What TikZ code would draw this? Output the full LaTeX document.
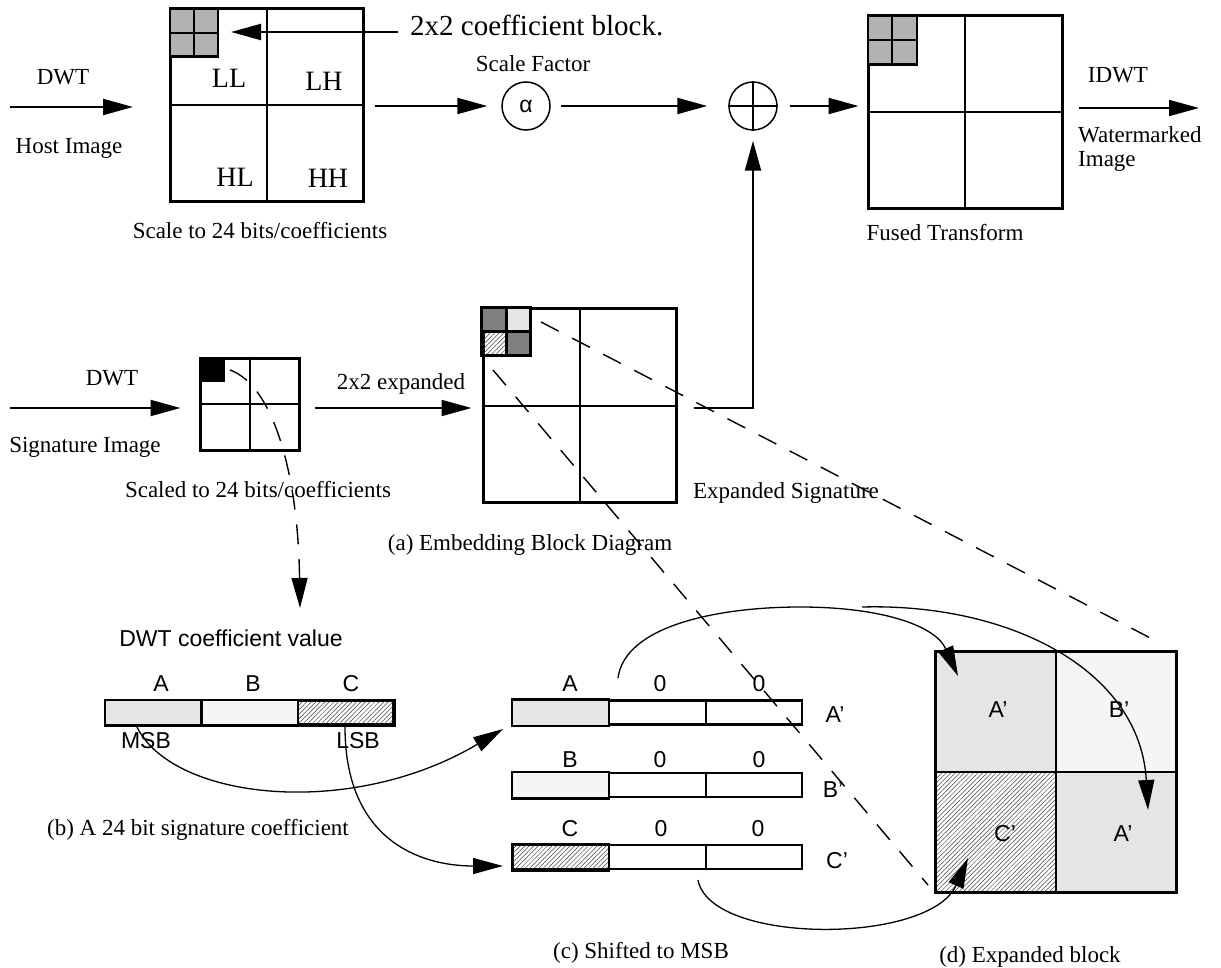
\documentclass[tikz,border=0pt]{standalone}
\usepackage{fontspec}
\setmainfont{Liberation Serif}
\setsansfont{Liberation Sans}
\usetikzlibrary{arrows.meta,patterns.meta,calc}
\begin{document}
\begin{tikzpicture}[x=1pt,y=-1pt,
  serif/.style={font=\fontsize{23}{27}\selectfont, inner sep=0pt},
  band/.style={font=\fontsize{28}{32}\selectfont, inner sep=0pt},
  bigtext/.style={font=\fontsize{29}{33}\selectfont, inner sep=0pt},
  sans/.style={font=\sffamily\fontsize{23}{27}\selectfont, inner sep=0pt},
  tipstyle/.style={-{Triangle[length=30pt,width=16pt]}},
  flow/.style={line width=2pt, tipstyle},
  curvearrow/.style={line width=1.3pt, tipstyle},
  dashline/.style={line width=1.4pt, dash pattern=on 20pt off 15pt},
  bigbox/.style={draw, rectangle, line width=3pt, inner sep=0pt},
  barbox/.style={draw, rectangle, line width=2.5pt, inner sep=0pt, minimum width=289pt, minimum height=24pt},
  cellline/.style={line width=2.5pt},
  midline/.style={line width=2pt},
  hatch/.style={pattern={Lines[angle=45,distance=3.2pt,line width=0.5pt]}, pattern color=black!75},
  lightA/.style={fill=black!10},
  lightB/.style={fill=black!4},
]
\useasboundingbox (0,0) rectangle (1221,968);

% ---------- top row ----------
\node[bigbox, minimum width=193pt, minimum height=193pt] (host) at (266.5,105.5) {};
\draw[midline] (host.north) -- (host.south) (host.west) -- (host.east);
\node[draw, fill=black!30, line width=2.5pt, minimum size=48pt, inner sep=0pt, anchor=north west] (hcb) at (host.north west) {};
\draw[midline] (hcb.north) -- (hcb.south) (hcb.west) -- (hcb.east);

\node[band, anchor=base] (ll) at (229,88) {LL};
\node[band, anchor=base] (lh) at (324,91) {LH};
\node[band, anchor=base] (hl) at (235,187) {HL};
\node[band, anchor=base] (hh) at (328,188) {HH};

\coordinate (hin) at (10,107);
\draw[flow] (hin) -- (hin -| 133,0);
\node[serif, anchor=base] (dwt1) at (63,85) {DWT};
\node[serif, anchor=base] (hostlbl) at (69,154) {Host Image};
\node[serif, anchor=base] (scalelbl) at (260,239) {Scale to 24 bits/coefficients};

\node[bigtext, anchor=base west] (cbl) at (410,36) {2x2 coefficient block.};
\coordinate (cbt) at (398,32);
\draw[flow, shorten >=12pt] (cbt) -- (cbt -| hcb.east);

\node[draw, circle, line width=1.5pt, minimum size=48pt, inner sep=0pt,
      font=\sffamily\fontsize{23}{27}\selectfont] (alpha) at (526,106) {α};
\node[serif, anchor=base] (sflbl) at (533,72) {Scale Factor};
\draw[flow, shorten <=10pt, shorten >=14pt] (host.east |- alpha.west) -- (alpha.west);

\node[draw, circle, line width=1.5pt, minimum size=48pt, inner sep=0pt] (plus) at (753,106) {};
\draw[line width=1.5pt] (plus.north) -- (plus.south) (plus.west) -- (plus.east);
\draw[flow, shorten <=10pt, shorten >=21pt] (alpha.east) -- (plus.west);

\node[bigbox, minimum width=194pt, minimum height=193pt] (fused) at (965,112.5) {};
\draw[midline] (fused.north) -- (fused.south) (fused.west) -- (fused.east);
\node[draw, fill=black!30, line width=2.5pt, minimum size=49pt, inner sep=0pt, anchor=north west] (fcb) at (fused.north west) {};
\draw[midline] (fcb.north) -- (fcb.south) (fcb.west) -- (fcb.east);
\draw[flow, shorten <=12pt, shorten >=8pt] (plus.east) -- (plus.east -| fused.west);
\node[serif, anchor=base] (fusedlbl) at (945,241) {Fused Transform};

\coordinate (wout) at (1199,108);
\draw[flow, shorten <=15pt] (fused.east |- wout) -- (wout);
\node[serif, anchor=base] (idwt) at (1118,83) {IDWT};
\node[serif, anchor=base west] (wm1) at (1078,143) {Watermarked};
\node[serif, anchor=base west] (wm2) at (1078,167) {Image};

% ---------- signature row ----------
\node[bigbox, minimum width=99pt, minimum height=92pt] (sig) at (249.5,404) {};
\draw[midline] (sig.north) -- (sig.south) (sig.west) -- (sig.east);
\node[fill=black, draw, line width=1pt, minimum width=25pt, minimum height=24pt, inner sep=0pt, anchor=north west] (sblk) at (sig.north west) {};

\coordinate (sin) at (10,408);
\draw[flow, shorten >=18pt] (sin) -- (sin -| sig.west);
\node[serif, anchor=base] (dwt2) at (112,385) {DWT};
\node[serif, anchor=base] (siglbl) at (85,452) {Signature Image};
\node[serif, anchor=base] (scaledlbl) at (258,497) {Scaled to 24 bits/coefficients};

\node[bigbox, minimum width=193pt, minimum height=193pt] (exp) at (579.5,405.5) {};
\draw[midline] (exp.north) -- (exp.south) (exp.west) -- (exp.east);
\draw[flow, shorten <=14pt, shorten >=10pt] (sig.east |- sin) -- (exp.west |- sin);
\node[serif, anchor=base] (explbl) at (401,389) {2x2 expanded};
\node[serif, anchor=base] (expsig) at (786,498) {Expanded Signature};

\filldraw[fill=black!50, line width=2.5pt] (exp.north west) rectangle ++(25,24);
\filldraw[fill=black!10, line width=2.5pt] ($(exp.north west)+(25,0)$) rectangle ++(24,24);
\filldraw[hatch, line width=2.5pt] ($(exp.north west)+(0,24)$) rectangle ++(25,24);
\draw[line width=2.5pt] ($(exp.north west)+(0,24)$) rectangle ++(25,24);
\filldraw[fill=black!50, line width=2.5pt] ($(exp.north west)+(25,24)$) rectangle ++(24,24);

\draw[flow, shorten <=16pt, shorten >=10pt] (exp.east |- sin) -| (plus.south);

\node[serif, anchor=base] (alab) at (530,550) {(a) Embedding Block Diagram};

% ---------- dashed guides ----------
\coordinate (sq) at (230,370);
\coordinate (bitsdown) at (300,608);
\draw[dashline, tipstyle] (sq) .. controls (272,385) and (298,470) .. (bitsdown);

\coordinate (d1s) at (541,322);
\coordinate (d1e) at (1160,643);
\draw[dashline] (d1s) -- (d1e);
\coordinate (d2s) at (493,370);
\coordinate (d2e) at (928,885);
\draw[dashline] (d2s) -- (d2e);

% ---------- (b) coefficient bar ----------
\node[sans, anchor=base] (dcv) at (231,646) {DWT coefficient value};
\node[barbox, minimum width=287pt, minimum height=23pt] (barb) at (249.5,712.5) {};
\filldraw[lightA, line width=2.5pt] (barb.north west) rectangle ($(barb.south west)!1/3!(barb.south east)$);
\filldraw[lightB, line width=2.5pt] ($(barb.north west)!1/3!(barb.north east)$) rectangle ($(barb.south west)!2/3!(barb.south east)$);
\filldraw[hatch, line width=2.5pt] ($(barb.north west)!2/3!(barb.north east)$) rectangle (barb.south east);
\draw[line width=2.5pt] ($(barb.north west)!2/3!(barb.north east)$) rectangle (barb.south east);
\node[sans, anchor=base] (lA) at (161,691) {A};
\node[sans, anchor=base] (lB) at (253,691) {B};
\node[sans, anchor=base] (lC) at (351,691) {C};
\node[sans, anchor=base] (msb) at (146,748) {MSB};
\node[sans, anchor=base] (lsb) at (358,748) {LSB};
\node[serif, anchor=base] (blab) at (198,835) {(b) A 24 bit signature coefficient};

% ---------- (c) shifted bars ----------
\node[barbox] (barA) at (657.5,712.5) {};
\node[barbox] (barB) at (657.5,785) {};
\node[barbox] (barC) at (657.5,857) {};
\filldraw[lightA, line width=2.5pt] (barA.north west) rectangle ($(barA.south west)!1/3!(barA.south east)$);
\filldraw[lightB, line width=2.5pt] (barB.north west) rectangle ($(barB.south west)!1/3!(barB.south east)$);
\filldraw[hatch, line width=2.5pt] (barC.north west) rectangle ($(barC.south west)!1/3!(barC.south east)$);
\draw[line width=2.5pt] (barC.north west) rectangle ($(barC.south west)!1/3!(barC.south east)$);
\foreach \b in {barA,barB,barC}{
  \draw[cellline] ($(\b.north west)!2/3!(\b.north east)$) -- ($(\b.south west)!2/3!(\b.south east)$);
}
\node[sans, anchor=base] (cA) at (570,691) {A};
\node[sans, anchor=base] (cA0) at (660,691) {0};
\node[sans, anchor=base] (cA00) at (759,691) {0};
\node[sans, anchor=base] (cB) at (570,767) {B};
\node[sans, anchor=base] (cB0) at (660,767) {0};
\node[sans, anchor=base] (cB00) at (759,767) {0};
\node[sans, anchor=base] (cC) at (570,836) {C};
\node[sans, anchor=base] (cC0) at (661,836) {0};
\node[sans, anchor=base] (cC00) at (758,836) {0};
\node[sans, anchor=base] (pA) at (835,722) {A'};
\node[sans, anchor=base] (pB) at (833,797) {B'};
\node[sans, anchor=base] (pC) at (837,868) {C'};
\node[serif, anchor=base] (clab) at (641,958) {(c) Shifted to MSB};

% ---------- (d) expanded block ----------
\node[minimum size=240pt, inner sep=0pt] (dblk) at (1056,772) {};
\fill[lightA] (dblk.north west) rectangle (dblk.center);
\fill[lightB] (dblk.north) rectangle (dblk.east);
\fill[hatch] (dblk.west) rectangle (dblk.south);
\fill[lightA] (dblk.center) rectangle (dblk.south east);
\draw[line width=3pt] (dblk.north west) rectangle (dblk.south east);
\draw[cellline] (dblk.north) -- (dblk.south) (dblk.west) -- (dblk.east);
\node[sans, anchor=base] (dA1) at (998,717) {A'};
\node[sans, anchor=base] (dB) at (1119,717) {B'};
\node[sans, anchor=base] (dC) at (1005,841) {C'};
\node[sans, anchor=base] (dA2) at (1123,841) {A'};
\node[serif, anchor=base] (dlab) at (1030,962) {(d) Expanded block};

% ---------- curved arrows ----------
\coordinate (msbS) at (136,725);
\coordinate (aIn) at (503,729);
\draw[curvearrow] (msbS) .. controls (170,800) and (350,820) .. (aIn);
\coordinate (lsbS) at (345,727);
\coordinate (cIn) at (503,866);
\draw[curvearrow] (lsbS) .. controls (345,840) and (420,866) .. (cIn);
\coordinate (aOut) at (618,678);
\coordinate (aPeak) at (800,607);
\coordinate (aTL) at (958,676);
\draw[curvearrow] (aOut) .. controls (625,625) and (720,607) .. (aPeak) .. controls (880,607) and (935,625) .. (aTL);
\coordinate (aTop) at (862,607);
\coordinate (aBR) at (1148,810);
\draw[curvearrow] (aTop) .. controls (1010,603) and (1140,670) .. (aBR);
\coordinate (cOut) at (698,880);
\coordinate (cTL) at (968,858);
\draw[curvearrow] (cOut) .. controls (710,945) and (930,945) .. (cTL);
\end{tikzpicture}
\end{document}
